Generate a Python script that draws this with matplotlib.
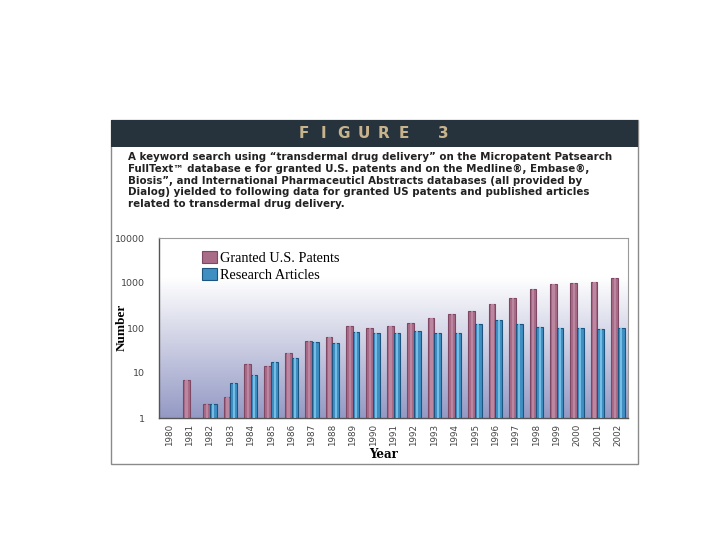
#!/usr/bin/env python3
# -*- coding: utf-8 -*-
"""Figure 3: granted US patents vs research articles on transdermal drug delivery."""

import numpy as np
import matplotlib
matplotlib.use("Agg")
import matplotlib.pyplot as plt
from matplotlib.patches import Rectangle
from matplotlib.ticker import FixedLocator, FixedFormatter

# ---------------- Data ----------------
years = list(range(1980, 2003))
patents = [np.nan, 7, 2, 3, 16, 14, 28, 52, 62, 108, 100,
           109, 131, 166, 208, 238, 341, 464, 747, 950, 1000, 1050, 1300]
articles = [np.nan, np.nan, 2, 6, 9, 18, 22, 50, 46, 80, 78,
            79, 86, 76, 79, 124, 150, 124, 103, 100, 102, 94, 102]

series_names = ["Granted U.S. Patents", "Research Articles"]
ytick_vals = [1, 10, 100, 1000, 10000]
ytick_text = ["1", "10", "100", "1000", "10000"]

header_chars = ["F", "I", "G", "U", "R", "E", "", "3"]
caption_lines = [
    "A keyword search using \u201ctransdermal drug delivery\u201d on the Micropatent Patsearch",
    "FullText\u2122 database e for granted U.S. patents and on the Medline\u00ae, Embase\u00ae,",
    "Biosis\u201d, and International Pharmaceuticl Abstracts databases (all provided by",
    "Dialog) yielded to following data for granted US patents and published articles",
    "related to transdermal drug delivery.",
]

# ---------------- Styles ----------------
W, H = 720, 540
PAT_FACE, PAT_EDGE, PAT_HI = "#a86c89", "#7e4764", "#bb86a0"
ART_FACE, ART_EDGE, ART_HI = "#3f8fc2", "#1d5580", "#74bde4"

def fx(px):
    return px / W

def fy(py):
    return 1 - py / H

fig = plt.figure(figsize=(7.2, 5.4), dpi=100)

# panel frame and header band
fig.add_artist(Rectangle((fx(111), fy(464)), fx(638) - fx(111), fy(120) - fy(464),
                         transform=fig.transFigure, facecolor="white",
                         edgecolor="#8a8a8a", lw=1.0, zorder=0))
fig.add_artist(Rectangle((fx(111), fy(147)), fx(638) - fx(111), fy(120) - fy(147),
                         transform=fig.transFigure, facecolor="#26323c",
                         edgecolor="none", zorder=1))
for i, ch in enumerate(header_chars):
    fig.text(fx(304 + i * 19.9), fy(134), ch, ha="center", va="center",
             color="#c8b48c", fontsize=11, fontweight="bold", family="DejaVu Sans")

for i, line in enumerate(caption_lines):
    fig.text(fx(128), fy(157 + i * 11.8), line, ha="left", va="center",
             fontsize=7.4, fontweight="bold", color="#222222", family="DejaVu Sans")

# ---------------- Chart ----------------
ax = fig.add_axes([fx(159), fy(418), fx(628) - fx(159), fy(238) - fy(418)])
ax.set_yscale("log")
ax.set_ylim(1, 10000)
ax.set_xlim(-0.5, len(years) - 0.5)

# background gradient: white at top fading to lavender-grey at the bottom
t = np.linspace(0, 1, 256)
g = np.clip((t - 0.22) / 0.78, 0, 1)
top = np.array([1.0, 1.0, 1.0])
bot = np.array([0.58, 0.60, 0.77])
grad = (top[None, :] * (1 - g[:, None]) + bot[None, :] * g[:, None])[:, None, :]
ax.imshow(grad, extent=[0, 1, 0, 1], transform=ax.transAxes, aspect="auto",
          zorder=0, interpolation="bilinear")

x = np.arange(len(years))
bw = 0.33
pat = np.array(patents, float)
art = np.array(articles, float)
ax.bar(x - bw / 2, pat - 1, width=bw, bottom=1, color=PAT_FACE,
       edgecolor=PAT_EDGE, linewidth=0.8, label=series_names[0], zorder=2)
ax.bar(x + bw / 2, art - 1, width=bw, bottom=1, color=ART_FACE,
       edgecolor=ART_EDGE, linewidth=0.8, label=series_names[1], zorder=2)
# light stripe inside each bar for the shaded look
ax.bar(x - bw / 2 + 0.02, pat - 1, width=bw * 0.35, bottom=1, color=PAT_HI,
       linewidth=0, zorder=3)
ax.bar(x + bw / 2, art - 1, width=bw * 0.3, bottom=1, color=ART_HI,
       linewidth=0, zorder=3)

ax.yaxis.set_major_locator(FixedLocator(ytick_vals))
ax.yaxis.set_major_formatter(FixedFormatter(ytick_text))
ax.yaxis.set_minor_locator(FixedLocator([]))
ax.set_xticks(x)
ax.set_xticklabels([str(y) for y in years], rotation=90, fontsize=6.3, color="#444444")
ax.tick_params(axis="y", length=0, pad=10, labelsize=6.8, labelcolor="#444444")
ax.tick_params(axis="x", length=0, pad=4)

for side in ("left", "bottom"):
    ax.spines[side].set_color("#555555")
    ax.spines[side].set_linewidth(1.0)
for side in ("top", "right"):
    ax.spines[side].set_color("#9a9a9a")
    ax.spines[side].set_linewidth(0.8)

fig.text(fx(122), fy(327), "Number", ha="center", va="center", rotation=90,
         family="Liberation Serif", fontweight="bold", fontsize=9.5)
fig.text(fx(384), fy(455), "Year", ha="center", va="center",
         family="DejaVu Serif", fontweight="bold", fontsize=8.5)

leg = ax.legend(loc="upper left", bbox_to_anchor=(0.08, 0.96), frameon=False,
                prop={"family": "Liberation Serif", "size": 10.3},
                handlelength=1.0, handleheight=0.9, handletextpad=0.25,
                labelspacing=0.2, borderaxespad=0)

fig.savefig("out.png", dpi=100)
